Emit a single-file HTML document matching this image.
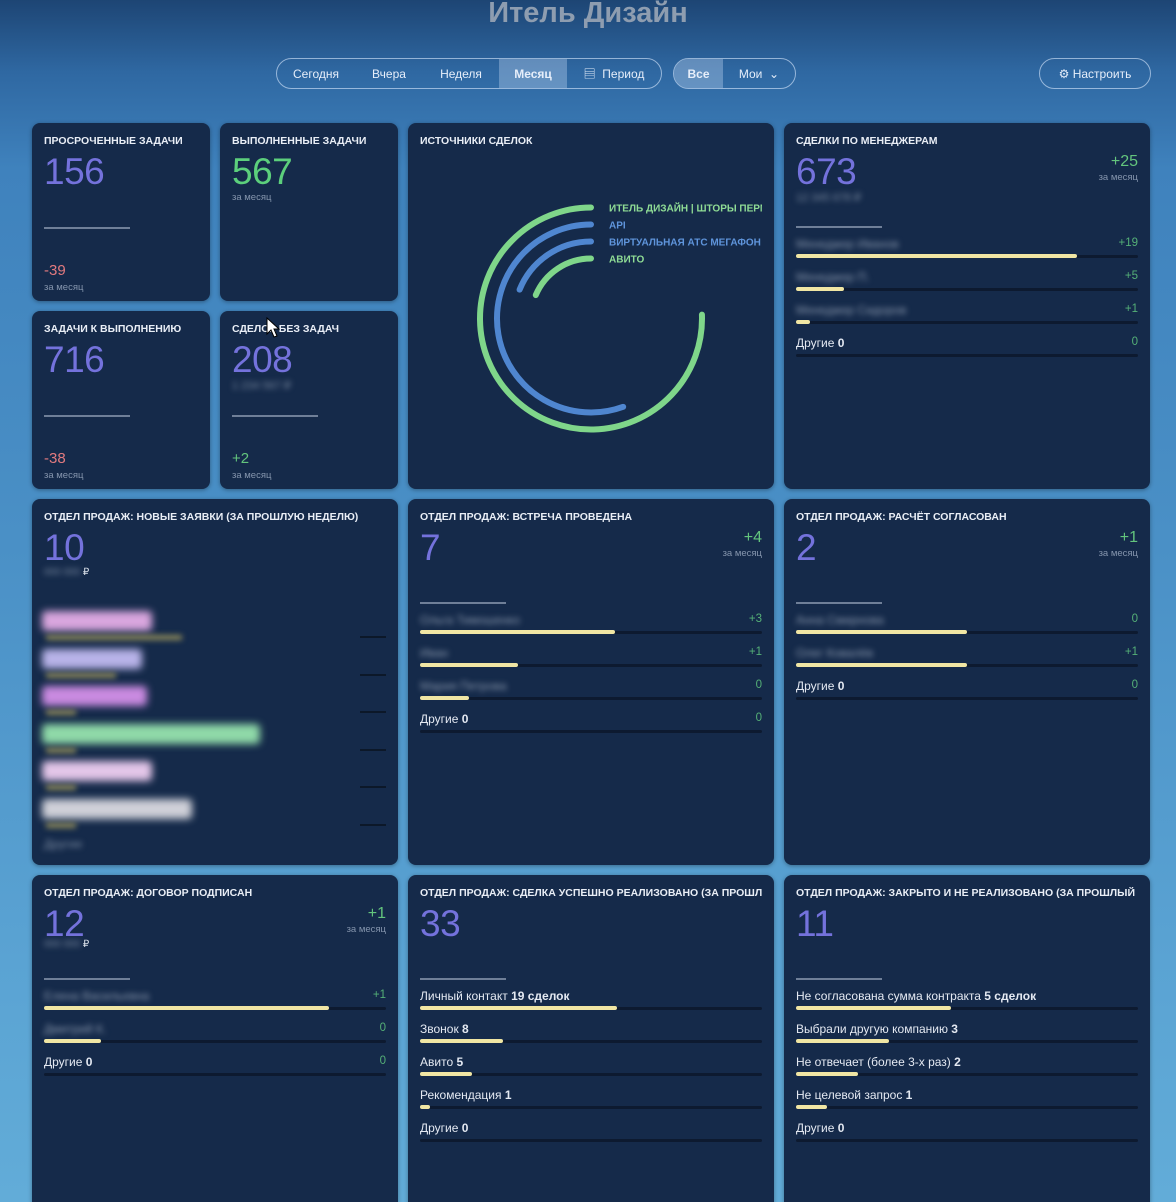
<!DOCTYPE html>
<html style="background:#62acd8"><head><meta charset="utf-8">
<style>
*{margin:0;padding:0;box-sizing:border-box}
html,body{width:1176px;height:1202px;overflow:hidden}
body{position:relative;font-family:"Liberation Sans","Noto Sans CJK SC",sans-serif;
background:linear-gradient(180deg,#1d4574 0%,#2f68a2 6%,#3f82bd 14%,#4a90c6 45%,#5aa3d3 80%,#62acd8 100%);}
.title{position:absolute;left:0;width:1176px;top:-3px;text-align:center;font-size:29px;font-weight:bold;color:#8e9db0;}
.pill{position:absolute;top:58px;height:31px;border:1.5px solid rgba(220,235,255,.6);border-radius:16px;display:flex;overflow:hidden;color:#e6eefa;font-size:12px}
.pill div{display:flex;align-items:center;justify-content:center;height:100%}
.pill .act{background:rgba(200,220,245,.35);font-weight:bold}
.card{position:absolute;background:#152a4a;border-radius:8px;box-shadow:0 1px 4px rgba(0,0,0,.35)}
.ct{position:absolute;left:12px;top:12px;font-size:10.5px;font-weight:bold;color:#e9eef6;white-space:nowrap;overflow:hidden;right:12px}
.big{position:absolute;left:12px;top:28px;font-size:37px;color:#7472dc;letter-spacing:-0.5px}
.sep{position:absolute;left:12px;width:86px;height:2px;background:#6f7f98}
.dl{position:absolute;font-size:15px;color:#e27a7f}
.sub{position:absolute;font-size:9.5px;color:#8595ad}
.blur{filter:blur(3px);color:#7a8aa0}
.rdelta{position:absolute;right:12px;top:30px;text-align:right;font-size:16px;color:#63c57d}
.rdelta span{display:block;font-size:9.5px;color:#8595ad;margin-top:1px}
</style></head><body>
<div class="title">Итель Дизайн</div>

<div class="pill" style="left:276px;width:386px">
 <div style="width:78px">Сегодня</div>
 <div style="width:68px">Вчера</div>
 <div style="width:76px">Неделя</div>
 <div class="act" style="width:68px">Месяц</div>
 <div style="width:94px">&#9636;&nbsp; Период</div>
</div>
<div class="pill" style="left:673px;width:123px">
 <div class="act" style="width:49px">Все</div>
 <div style="width:72px">Мои&nbsp; &#8964;</div>
</div>
<div class="pill" style="left:1039px;width:112px">
 <div style="width:110px">&#9881;&nbsp;Настроить</div>
</div>

<div class="card" style="left:32px;top:123px;width:178px;height:178px">
 <div class="ct">ПРОСРОЧЕННЫЕ ЗАДАЧИ</div>
 <div class="big">156</div>
 <div class="sep" style="top:104px"></div>
 <div class="dl" style="left:12px;top:139px">-39</div>
 <div class="sub" style="left:12px;top:159px">за месяц</div>
</div>
<div class="card" style="left:220px;top:123px;width:178px;height:178px">
 <div class="ct">ВЫПОЛНЕННЫЕ ЗАДАЧИ</div>
 <div class="big" style="color:#5ccf7c">567</div>
 <div class="sub" style="left:12px;top:69px">за месяц</div>
</div>
<div class="card" style="left:32px;top:311px;width:178px;height:178px">
 <div class="ct">ЗАДАЧИ К ВЫПОЛНЕНИЮ</div>
 <div class="big">716</div>
 <div class="sep" style="top:104px"></div>
 <div class="dl" style="left:12px;top:139px">-38</div>
 <div class="sub" style="left:12px;top:159px">за месяц</div>
</div>
<div class="card" style="left:220px;top:311px;width:178px;height:178px">
 <div class="ct">СДЕЛОК БЕЗ ЗАДАЧ</div>
 <div class="big">208</div>
 <div class="sub blur" style="left:12px;top:68px;font-size:11px">1 234 567 ₽</div>
 <div class="sep" style="top:104px"></div>
 <div class="dl" style="left:12px;top:139px;color:#63c57d">+2</div>
 <div class="sub" style="left:12px;top:159px">за месяц</div>
</div>

<div class="card" style="left:408px;top:123px;width:366px;height:366px">
 <div class="ct">ИСТОЧНИКИ СДЕЛОК</div>
 <svg id="donut" width="354" height="366" style="position:absolute;left:0;top:0"></svg>
</div>

<div class="card" style="left:784px;top:123px;width:366px;height:366px" id="c-mgr">
 <div class="ct">СДЕЛКИ ПО МЕНЕДЖЕРАМ</div>
 <div class="big">673</div>
 <div class="rdelta">+25<span>за месяц</span></div>
 <div class="sub blur" style="left:12px;top:68px;font-size:11px">12 345 678 ₽</div>
</div>

<div class="card" style="left:32px;top:499px;width:366px;height:366px" id="c-new">
 <div class="ct">ОТДЕЛ ПРОДАЖ: НОВЫЕ ЗАЯВКИ (ЗА ПРОШЛУЮ НЕДЕЛЮ)</div>
 <div class="big">10</div>
 <div class="sub" style="left:12px;top:68px;font-size:10px;color:#d8dfe9"><span class="blur">000 000</span> ₽</div>
</div>
<div class="card" style="left:408px;top:499px;width:366px;height:366px" id="c-meet">
 <div class="ct">ОТДЕЛ ПРОДАЖ: ВСТРЕЧА ПРОВЕДЕНА</div>
 <div class="big">7</div>
 <div class="rdelta">+4<span>за месяц</span></div>
</div>
<div class="card" style="left:784px;top:499px;width:366px;height:366px" id="c-calc">
 <div class="ct">ОТДЕЛ ПРОДАЖ: РАСЧЁТ СОГЛАСОВАН</div>
 <div class="big">2</div>
 <div class="rdelta">+1<span>за месяц</span></div>
</div>
<div class="card" style="left:32px;top:875px;width:366px;height:340px" id="c-contract">
 <div class="ct">ОТДЕЛ ПРОДАЖ: ДОГОВОР ПОДПИСАН</div>
 <div class="big">12</div>
 <div class="rdelta">+1<span>за месяц</span></div>
 <div class="sub" style="left:12px;top:64px;font-size:10px;color:#d8dfe9"><span class="blur">000 000</span> ₽</div>
</div>
<div class="card" style="left:408px;top:875px;width:366px;height:340px" id="c-won">
 <div class="ct">ОТДЕЛ ПРОДАЖ: СДЕЛКА УСПЕШНО РЕАЛИЗОВАНО (ЗА ПРОШЛЫЙ МЕСЯЦ)</div>
 <div class="big">33</div>
</div>
<div class="card" style="left:784px;top:875px;width:366px;height:340px" id="c-lost">
 <div class="ct">ОТДЕЛ ПРОДАЖ: ЗАКРЫТО И НЕ РЕАЛИЗОВАНО (ЗА ПРОШЛЫЙ МЕСЯЦ)</div>
 <div class="big">11</div>
</div>

<svg width="14" height="22" style="position:absolute;left:266px;top:317px"><path d="M1 1 L1 17 L5 13 L8 20 L11 19 L8 12 L13 12 Z" fill="#fff" stroke="#000" stroke-width="1"/></svg>

<script>
const sourceNames = ["ИТЕЛЬ ДИЗАЙН | ШТОРЫ ПЕРМЬ","API","ВИРТУАЛЬНАЯ АТС МЕГАФОН","АВИТО"];
const sourceValues = [272, 200, 68, 67];
const sourceColors = ["#7fd68a","#4f86d0","#4f86d0","#7fd68a"];
const legendColors = ["#8fdc95","#5f95dc","#5f95dc","#8fdc95"];

const mgrLabels = ["Менеджер Иванов","Менеджер П.","Менеджер Сидоров","Другие"];
const mgrValues = [552, 94, 27, 0];
const mgrDeltas = ["+19","+5","+1","0"];
const meetLabels = ["Ольга Тимошенко","Иван","Мария Петрова","Другие"];
const meetValues = [4, 2, 1, 0];
const meetDeltas = ["+3","+1","0","0"];
const calcLabels = ["Анна Смирнова","Олег Ковалёв","Другие"];
const calcValues = [1, 1, 0];
const calcDeltas = ["0","+1","0"];
const contractLabels = ["Елена Васильевна","Дмитрий К.","Другие"];
const contractValues = [10, 2, 0];
const contractDeltas = ["+1","0","0"];
const wonLabels = ["Личный контакт","Звонок","Авито","Рекомендация","Другие"];
const wonValues = [19, 8, 5, 1, 0];
const lostLabels = ["Не согласована сумма контракта","Выбрали другую компанию","Не отвечает (более 3-х раз)","Не целевой запрос","Другие"];
const lostValues = [5, 3, 2, 1, 0];
const newLeadBars = [110, 100, 105, 218, 110, 150];
const newLeadColors = ["#d9a6de","#b8b3e8","#c98ae0","#8fd9a8","#e3c6e8","#cfd0d8"];
const newLeadUnder = [136, 70, 30, 30, 30, 30];

const NS = "http://www.w3.org/2000/svg";
(function(){
  const svg = document.getElementById('donut');
  const cx = 183, cy = 195.5, maxV = Math.max(...sourceValues), maxAng = 272;
  const radii = [111, 94, 77, 60];
  sourceValues.forEach((v,i)=>{
    const r = radii[i], ang = v/maxV*maxAng*Math.PI/180;
    const x0 = cx, y0 = cy - r;
    const x1 = cx - r*Math.sin(ang), y1 = cy - r*Math.cos(ang);
    const large = ang > Math.PI ? 1 : 0;
    const p = document.createElementNS(NS,'path');
    p.setAttribute('d',`M${x0} ${y0} A${r} ${r} 0 ${large} 0 ${x1} ${y1}`);
    p.setAttribute('fill','none');
    p.setAttribute('stroke',sourceColors[i]);
    p.setAttribute('stroke-width','6');
    p.setAttribute('stroke-linecap','round');
    
    
    svg.appendChild(p);
    const t = document.createElementNS(NS,'text');
    t.setAttribute('x', 201);
    t.setAttribute('y', y0+4);
    t.setAttribute('font-size','10');
    t.setAttribute('font-weight','bold');
    t.setAttribute('fill',legendColors[i]);
    t.textContent = sourceNames[i];
    
    
    svg.appendChild(t);
  });
})();

function buildList(id, labels, values, deltas, total, blurSet, suffix){
  const card = document.getElementById(id);
  const sep = document.createElement('div');
  sep.className='sep'; sep.style.top='103px';
  card.appendChild(sep);
  const trackW = 342;
  labels.forEach((lab,i)=>{
    const top = 113 + i*33;
    const row = document.createElement('div');
    row.style.cssText=`position:absolute;left:12px;top:${top}px;width:${trackW}px;height:28px`;
    
    
    const isBlur = blurSet && lab!=="Другие";
    const valTxt = (i===0 && suffix) ? values[i]+' '+suffix : values[i];
    row.innerHTML = `<div style="position:absolute;left:0;top:1px;font-size:12px;color:#e4e9f2;white-space:nowrap">`+
      (isBlur ? `<span class="blur" style="color:#8a98ad;font-size:12px">${lab}</span>` : lab)+
      (isBlur && !suffix ? '' : ` <b>${isBlur?'':valTxt}</b>`)+`</div>`+
      (deltas ? `<div style="position:absolute;right:0;top:1px;font-size:11.5px;color:#55b077">${deltas[i]}</div>`:'')+
      `<div style="position:absolute;left:0;top:19px;width:${trackW}px;height:3px;background:#0d1a30;border-radius:2px"></div>`;
    const bar = document.createElement('div');
    bar.style.cssText=`position:absolute;left:0;top:18px;height:4px;border-radius:2px;background:#f0e6a4;width:${values[i]/total*trackW}px`;
    
    
    row.appendChild(bar);
    card.appendChild(row);
  });
}
const sum = a=>a.reduce((x,y)=>x+y,0);
buildList('c-mgr', mgrLabels, mgrValues, mgrDeltas, 673, true);
buildList('c-meet', meetLabels, meetValues, meetDeltas, sum(meetValues), true, 'сделки');
buildList('c-calc', calcLabels, calcValues, calcDeltas, sum(calcValues), true);
buildList('c-contract', contractLabels, contractValues, contractDeltas, sum(contractValues), true);
buildList('c-won', wonLabels, wonValues, null, sum(wonValues), false, 'сделок');
buildList('c-lost', lostLabels, lostValues, null, sum(lostValues), false, 'сделок');

(function(){
  const card = document.getElementById('c-new');
  newLeadBars.forEach((w,i)=>{
    const top = 112 + i*37.5;
    const b = document.createElement('div');
    b.style.cssText=`position:absolute;left:10px;top:${top}px;width:${w}px;height:20px;background:${newLeadColors[i]};filter:blur(4px);border-radius:4px`;
    
    
    card.appendChild(b);
    const u = document.createElement('div');
    u.style.cssText=`position:absolute;left:14px;top:${top+24}px;width:${newLeadUnder[i]}px;height:5px;background:#8f8a5a;filter:blur(3px)`;
    
    
    card.appendChild(u);
    const d = document.createElement('div');
    d.style.cssText=`position:absolute;left:328px;top:${top+25}px;width:26px;height:2px;background:#0c1829`;
    
    
    card.appendChild(d);
  });
  const o = document.createElement('div');
  o.className='blur';
  o.style.cssText='position:absolute;left:12px;top:338px;font-size:12px;color:#7a8aa0';
  o.textContent='Другие';
  
  
  card.appendChild(o);
})();
</script>
</body></html>
